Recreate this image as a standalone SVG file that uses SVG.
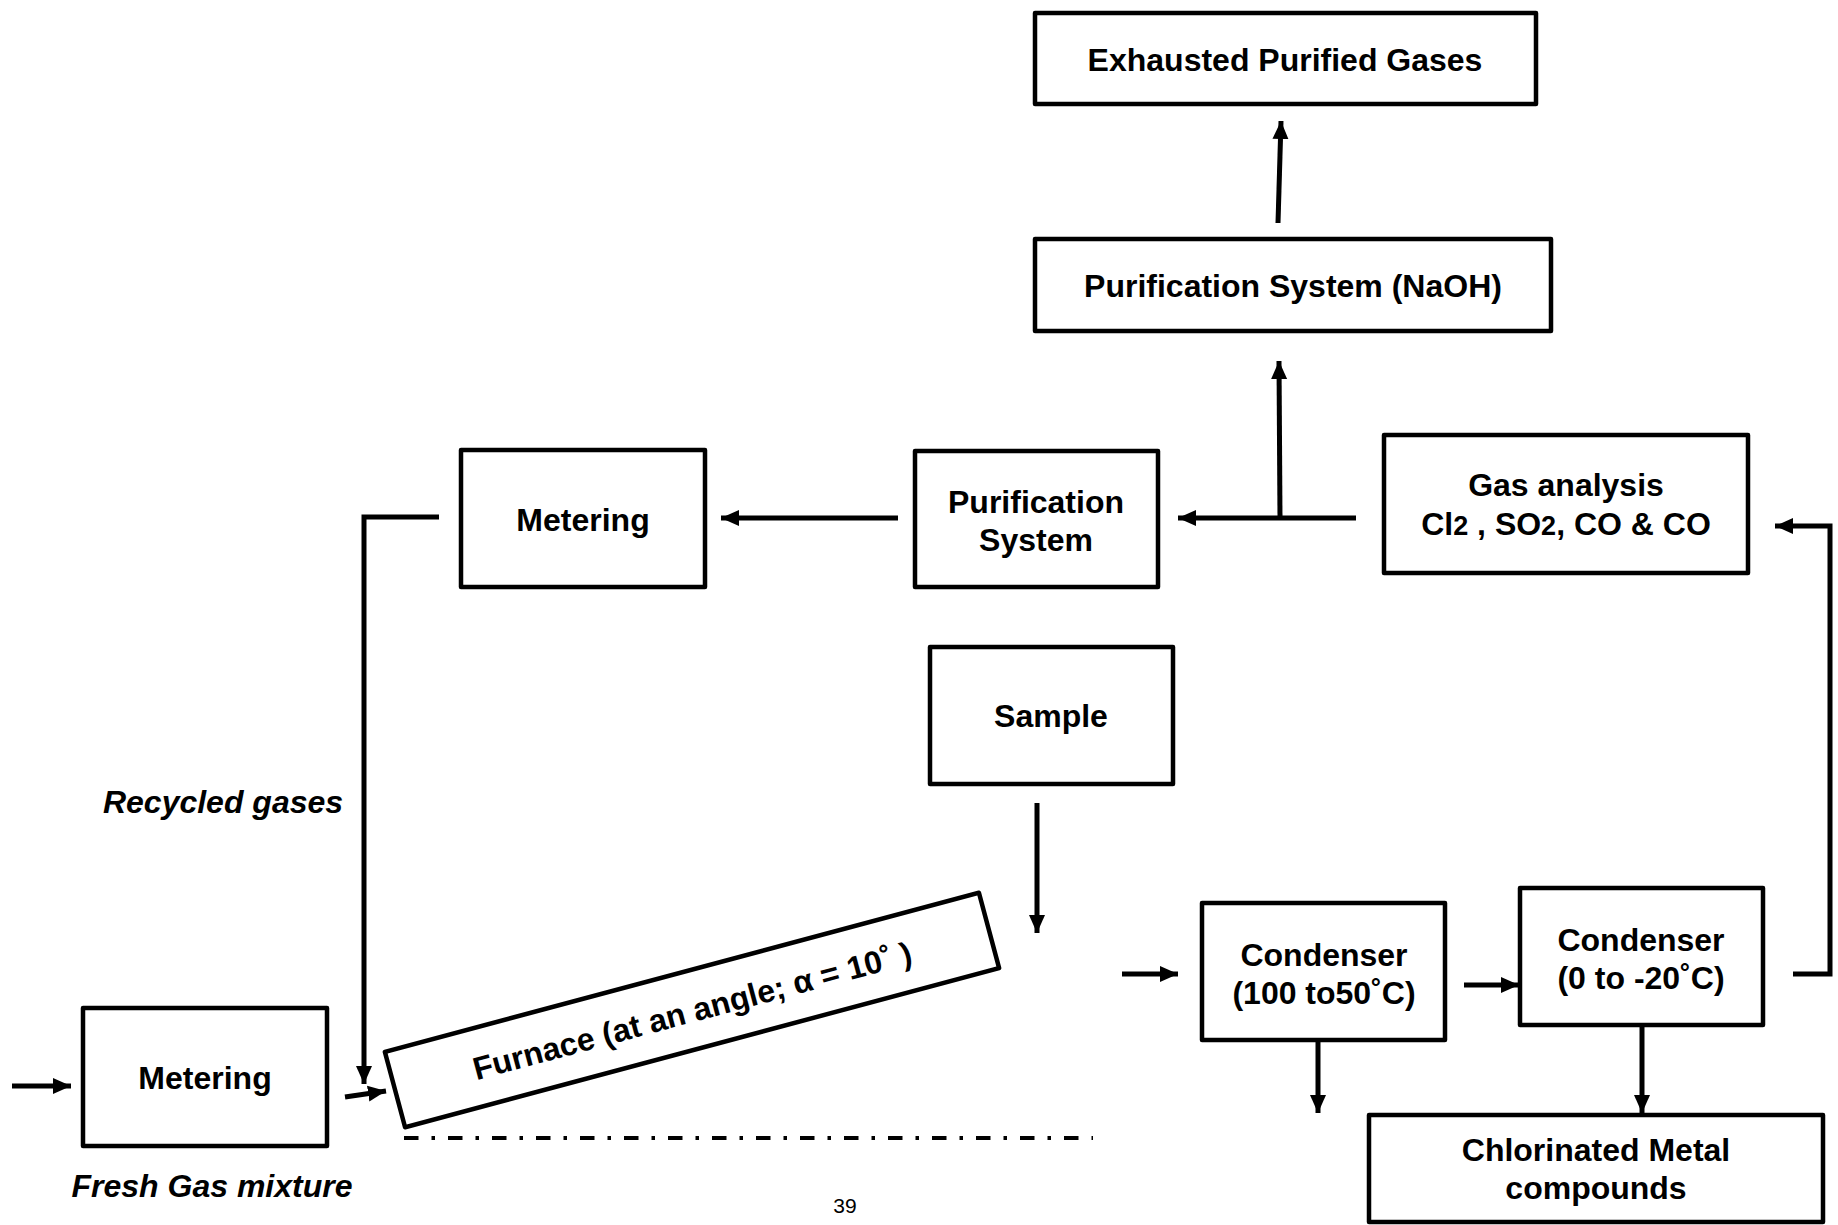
<svg xmlns="http://www.w3.org/2000/svg" width="1838" height="1225" viewBox="0 0 1838 1225">
<style>
.box{fill:#fff;stroke:#000;stroke-width:4.5;stroke-linejoin:round}
.t{font-family:"Liberation Sans",Arial,sans-serif;font-weight:bold;font-size:32px;text-anchor:middle;fill:#000}
.it{font-family:"Liberation Sans",Arial,sans-serif;font-weight:bold;font-style:italic;font-size:32px;text-anchor:middle;fill:#000}
.c{fill:none;stroke:#000;stroke-width:5}
.sub{font-size:27px}
</style>
<defs>
<marker id="ah" markerUnits="userSpaceOnUse" markerWidth="19" markerHeight="17" refX="18" refY="8.5" orient="auto">
<path d="M0,0.5 L18,8.5 L0,16.5 z" fill="#000"/>
</marker>
</defs>
<rect width="1838" height="1225" fill="#fff"/>

<g id="exhausted">
<rect class="box" x="1035" y="13" width="501" height="91"/>
<text class="t" x="1285" y="71">Exhausted Purified Gases</text>
</g>
<g id="purification-naoh">
<rect class="box" x="1035" y="239" width="516" height="92"/>
<text class="t" x="1293" y="297">Purification System (NaOH)</text>
</g>
<g id="metering-top">
<rect class="box" x="461" y="450" width="244" height="137"/>
<text class="t" x="583" y="531">Metering</text>
</g>
<g id="purification-system">
<rect class="box" x="915" y="451" width="243" height="136"/>
<text class="t" x="1036" y="513">Purification</text>
<text class="t" x="1036" y="551">System</text>
</g>
<g id="gas-analysis">
<rect class="box" x="1384" y="435" width="364" height="138"/>
<text class="t" x="1566" y="496">Gas analysis</text>
<text class="t" x="1566" y="535">Cl<tspan class="sub">2</tspan> , SO<tspan class="sub">2</tspan>, CO &amp; CO</text>
</g>
<g id="sample">
<rect class="box" x="930" y="647" width="243" height="137"/>
<text class="t" x="1051" y="727">Sample</text>
</g>
<g id="metering-bottom">
<rect class="box" x="83" y="1008" width="244" height="138"/>
<text class="t" x="205" y="1089">Metering</text>
</g>
<g id="furnace" transform="translate(692,1010) rotate(-15)">
<rect class="box" x="-307.5" y="-39" width="615" height="78"/>
<text class="t" x="0" y="12">Furnace (at an angle; α = 10˚ )</text>
</g>
<g id="condenser-1">
<rect class="box" x="1202" y="903" width="243" height="137"/>
<text class="t" x="1324" y="966">Condenser</text>
<text class="t" x="1324" y="1004">(100 to50˚C)</text>
</g>
<g id="condenser-2">
<rect class="box" x="1520" y="888" width="243" height="137"/>
<text class="t" x="1641" y="951">Condenser</text>
<text class="t" x="1641" y="989">(0 to -20˚C)</text>
</g>
<g id="chlorinated">
<rect class="box" x="1369" y="1115" width="454" height="107"/>
<text class="t" x="1596" y="1161">Chlorinated Metal</text>
<text class="t" x="1596" y="1199">compounds</text>
</g>

<g id="labels">
<text class="it" x="223" y="813">Recycled gases</text>
<text class="it" x="212" y="1197">Fresh Gas mixture</text>
<text x="845" y="1213" font-family="Liberation Sans, Arial, sans-serif" font-size="21" text-anchor="middle">39</text>
<line x1="404" y1="1138" x2="1093" y2="1138" stroke="#000" stroke-width="4" stroke-dasharray="14.5 13 3.5 13"/>
</g>

<g id="connectors">
<line class="c" x1="1278" y1="223" x2="1281" y2="121" marker-end="url(#ah)"/>
<line class="c" x1="1280" y1="518" x2="1279" y2="361" marker-end="url(#ah)"/>
<line class="c" x1="1356" y1="518" x2="1178" y2="518" marker-end="url(#ah)"/>
<line class="c" x1="898" y1="518" x2="721" y2="518" marker-end="url(#ah)"/>
<polyline class="c" points="439,517 364,517 364,1084" marker-end="url(#ah)"/>
<line class="c" x1="12" y1="1086" x2="71" y2="1086" marker-end="url(#ah)"/>
<line class="c" x1="345" y1="1097" x2="386" y2="1091" marker-end="url(#ah)"/>
<line class="c" x1="1037" y1="803" x2="1037" y2="933" marker-end="url(#ah)"/>
<line class="c" x1="1122" y1="974" x2="1178" y2="974" marker-end="url(#ah)"/>
<line class="c" x1="1464" y1="985" x2="1519" y2="985" marker-end="url(#ah)"/>
<line class="c" x1="1318" y1="1040" x2="1318" y2="1113" marker-end="url(#ah)"/>
<line class="c" x1="1642" y1="1025" x2="1642" y2="1113" marker-end="url(#ah)"/>
<polyline class="c" points="1793,974 1830,974 1830,526 1775,526" marker-end="url(#ah)"/>
</g>
</svg>
